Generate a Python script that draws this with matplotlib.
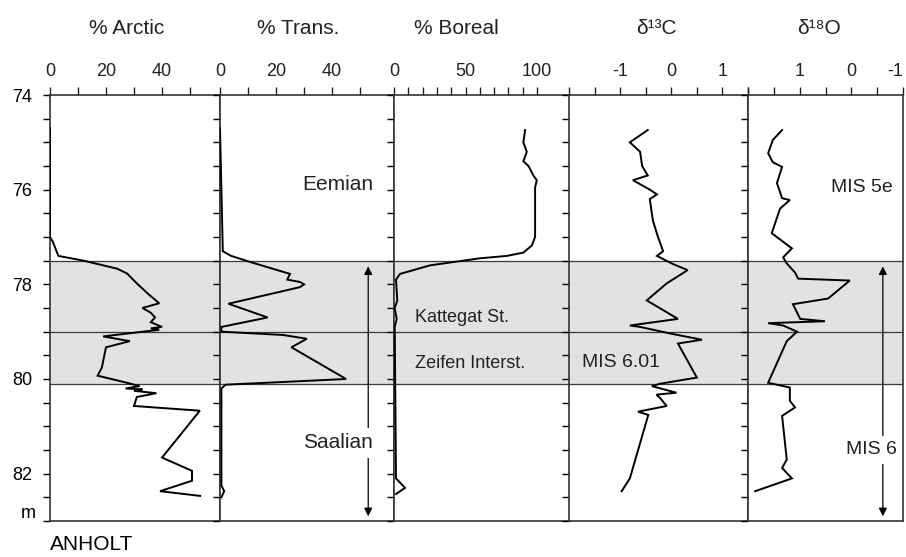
import matplotlib
matplotlib.use("Agg")
import matplotlib.pyplot as plt
import numpy as np

plt.rcParams['font.family'] = ['Liberation Sans', 'DejaVu Sans']

# ---- data (depth in m) ----
arctic_depth = [74.7, 77.0, 77.1, 77.4, 77.5, 77.67, 77.77, 77.98, 78.2, 78.3, 78.4,
                78.5, 78.6, 78.7, 78.8, 78.9, 78.93, 78.96, 79.1, 79.2, 79.33, 79.76,
                79.93, 80.08, 80.15, 80.2, 80.22, 80.25, 80.3, 80.38, 80.57, 80.67,
                81.66, 81.94, 82.15, 82.37, 82.47]
arctic_pct = [0, 0, 1, 3, 12, 24, 27.5, 31, 35, 37, 39,
              33, 36, 37.5, 36, 40, 36, 39, 19, 28.5, 20, 18.5,
              17, 27.5, 32, 27, 33, 30, 38, 31, 30, 53.5,
              40, 50.7, 50.7, 39.3, 53.6]

trans_depth = [74.7, 77.3, 77.4, 77.55, 77.78, 77.9, 77.95, 78.0, 78.06, 78.41, 78.7,
               78.9, 79.0, 79.07, 79.15, 79.33, 80.0, 80.12, 80.2, 82.25, 82.37, 82.5]
trans_pct = [0, 1, 4, 12, 25, 24, 28.5, 30, 28.5, 3, 17,
             0.5, 0.5, 22.5, 31, 25.5, 45, 2, 0.5, 0.5, 1.5, 0.5]

boreal_depth = [74.74, 75.0, 75.2, 75.4, 75.5, 75.7, 75.8, 75.95, 77.0, 77.18, 77.33,
                77.4, 77.45, 77.6, 77.78, 77.9, 78.34, 78.5, 78.73, 78.9, 82.1, 82.3, 82.43]
boreal_pct = [91.6, 90.4, 92.8, 90.4, 94, 97.4, 99.8, 98.6, 98.6, 96.3, 90.4,
              78.8, 60, 25, 4.2, 1.4, 2.3, 0.5, 1.9, 0.5, 1.4, 7.7, 1.4]

d13c_depth = [74.74, 75.0, 75.2, 75.5, 75.7, 75.8, 76.0, 76.1, 76.2, 76.65, 77.0,
              77.3, 77.4, 77.57, 77.7, 77.98, 78.34, 78.73, 78.87, 78.9, 79.05, 79.17,
              79.25, 79.97, 80.1, 80.15, 80.29, 80.33, 80.4, 80.57, 80.69, 80.76,
              82.1, 82.37]
d13c = [-0.46, -0.81, -0.61, -0.57, -0.46, -0.75, -0.42, -0.28, -0.42, -0.36, -0.26,
        -0.16, -0.28, 0.03, 0.32, -0.09, -0.48, 0.13, -0.81, -0.61, 0.03, 0.6,
        0.13, 0.5, -0.22, -0.38, 0.10, -0.29, -0.22, -0.09, -0.65, -0.45,
        -0.81, -0.97]

d18o_depth = [74.74, 74.95, 75.23, 75.42, 75.52, 75.86, 76.18, 76.22, 76.4, 76.92, 77.24,
              77.43, 77.56, 77.75, 77.88, 77.92, 78.3, 78.42, 78.73, 78.78, 78.82, 78.87,
              79.0, 79.2, 80.08, 80.18, 80.46, 80.6, 80.78, 81.7, 81.88, 82.1, 82.37]
d18o = [1.34, 1.52, 1.61, 1.52, 1.34, 1.44, 1.34, 1.19, 1.38, 1.54, 1.15,
        1.32, 1.25, 1.09, 1.03, 0.03, 0.45, 1.13, 0.99, 0.51, 1.61, 1.32,
        1.05, 1.25, 1.61, 1.19, 1.19, 1.09, 1.34, 1.25, 1.34, 1.15, 1.86]

titles = ['% Arctic', '% Trans.', '% Boreal', 'δ¹³C', 'δ¹⁸O']
band_top, band_mid, band_bot = 77.5, 79.0, 80.1

# ---- layout in pixels ----
W, H = 906, 557
top_px, bot_px = 95, 521
fig = plt.figure(figsize=(W / 100, H / 100), dpi=100)


def add_panel(x0, x1):
    return fig.add_axes([x0 / W, (H - bot_px) / H, (x1 - x0) / W, (bot_px - top_px) / H])


panels = [
    # (x0, x1, xlim, major, minor, depth, values)
    (50, 220, (0, 60.7), [0, 20, 40], np.arange(0, 51, 10), arctic_depth, arctic_pct),
    (220, 394, (0, 62.1), [0, 20, 40], np.arange(0, 51, 10), trans_depth, trans_pct),
    (394, 570, (0, 123), [0, 50, 100], np.arange(0, 101, 10), boreal_depth, boreal_pct),
    (569, 748, (-2, 1.5), [-1, 0, 1], np.arange(-2, 1.6, 0.5), d13c_depth, d13c),
    (748, 903, (2, -1), [1, 0, -1], np.arange(-1, 2.1, 0.5), d18o_depth, d18o),
]
title_x = [127, 298, 456, 656, 819]

axes = []
for i, (x0, x1, xlim, major, minor, dep, val) in enumerate(panels):
    ax = add_panel(x0, x1)
    ax.set_xlim(*xlim)
    ax.set_ylim(83.0, 74)
    ax.axhspan(band_top, band_bot, color='#e2e2e2', lw=0, zorder=0)
    for yb in (band_top, band_mid, band_bot):
        ax.axhline(yb, color='#3a3a3a', lw=0.9, zorder=1)
    ax.plot(val, dep, color='black', lw=1.4, zorder=3, solid_joinstyle='miter')

    ax.xaxis.tick_top()
    ax.set_xticks(major)
    ax.set_xticks(minor, minor=True)
    ax.set_xticklabels([str(m) for m in major], fontsize=13)
    ax.tick_params(axis='x', which='both', direction='out', length=6, width=1,
                   pad=5, colors='#222222', labelcolor='#222222')

    ax.set_yticks(np.arange(74, 83, 2))
    ax.set_yticks(np.arange(74, 83.01, 0.5), minor=True)
    ax.tick_params(axis='y', which='both', direction='out', length=5, width=1,
                   left=True, right=False, pad=8)
    if i == 0:
        ax.set_yticklabels([str(v) for v in range(74, 83, 2)], fontsize=13)
    else:
        ax.set_yticklabels([])
    for s in ax.spines.values():
        s.set_linewidth(1.2)
        s.set_color('#333333')
    fig.text(title_x[i] / W, 1 - 28 / H, titles[i], fontsize=15, ha='center',
             va='center', color='#222222')
    axes.append(ax)

ax_arc, ax_tr, ax_bor, ax_c, ax_o = axes
# the last tick label sits at the figure edge, as in the original
ax_o.get_xticklabels()[-1].set_horizontalalignment('right')

# unit label and site name
fig.text(28 / W, 1 - 513 / H, 'm', fontsize=13, ha='center', va='center')
fig.text(50 / W, 1 - 545 / H, 'ANHOLT', fontsize=15, ha='left', va='center')

# stage annotations
txt = dict(fontsize=15, color='#222222', zorder=5)
ax_tr.text(42, 75.9, 'Eemian', ha='center', va='center', **txt)
ax_tr.annotate('', xy=(52.9, 77.62), xytext=(52.9, 82.9),
               arrowprops=dict(arrowstyle='<|-|>', color='black', lw=0.9,
                               mutation_scale=12, shrinkA=0, shrinkB=0), zorder=4)
ax_tr.text(42, 81.35, 'Saalian', ha='center', va='center',
           bbox=dict(facecolor='white', edgecolor='none', pad=4), **txt)

ax_bor.text(15, 78.7, 'Kattegat St.', ha='left', va='center', fontsize=13, color='#222222')
ax_bor.text(15, 79.68, 'Zeifen Interst.', ha='left', va='center', fontsize=13, color='#222222')
ax_c.text(-1.75, 79.66, 'MIS 6.01', ha='left', va='center', fontsize=14, color='#222222')

ax_o.text(-0.2, 75.95, 'MIS 5e', ha='center', va='center', fontsize=14, color='#222222')
ax_o.annotate('', xy=(-0.61, 77.62), xytext=(-0.61, 82.9),
              arrowprops=dict(arrowstyle='<|-|>', color='black', lw=0.9,
                              mutation_scale=12, shrinkA=0, shrinkB=0), zorder=4)
ax_o.text(-0.38, 81.5, 'MIS 6', ha='center', va='center', fontsize=14, color='#222222',
          bbox=dict(facecolor='white', edgecolor='none', pad=4), zorder=5)

fig.savefig('out.png', dpi=100)
